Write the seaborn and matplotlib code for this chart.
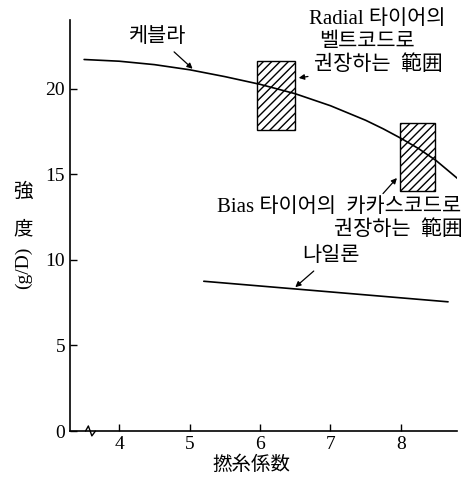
import numpy as np
import pandas as pd
import seaborn as sns
import matplotlib.pyplot as plt

# values
kevlar_x = [3.5, 4.0, 4.5, 5.0, 5.5, 6.0, 6.5, 7.0, 7.5, 7.75, 8.0, 8.25, 8.5, 8.82]
kevlar_y = [21.7, 21.6, 21.4, 21.1, 20.7, 20.25, 19.7, 19.0, 18.15, 17.65, 17.1, 16.5, 15.8, 14.7]
nylon_x = [5.2, 8.67]
nylon_y = [8.75, 7.55]

# recommended twist ranges (x from, x to, y from, y to)
range_x0 = [5.96, 7.99]
range_x1 = [6.49, 8.49]
range_y0 = [17.6, 14.0]
range_y1 = [21.6, 18.0]

x_ticks = [4, 5, 6, 7, 8]
y_ticks = [0, 5, 10, 15, 20]

sns.set_style("ticks")
fonts = ['Liberation Serif', 'Noto Sans CJK KR', 'Noto Sans CJK JP']
plt.rcParams['font.family'] = fonts
plt.rcParams['hatch.linewidth'] = 1.0

fig = plt.figure(figsize=(4.67, 4.79), dpi=100)
ax = fig.add_axes([0.15, 0.10, 0.829, 0.858])

df_k = pd.DataFrame({'x': kevlar_x, 'y': kevlar_y})
df_n = pd.DataFrame({'x': nylon_x, 'y': nylon_y})
sns.lineplot(data=df_k, x='x', y='y', ax=ax, color='black', lw=1.2, estimator=None)
sns.lineplot(data=df_n, x='x', y='y', ax=ax, color='black', lw=1.2, estimator=None)

for a, b, c, d in zip(range_x0, range_x1, range_y0, range_y1):
    ax.bar((a + b) / 2, d - c, width=b - a, bottom=c, fill=False,
           hatch='////', edgecolor='black', linewidth=1.0)

ax.set_xlim(3.3, 8.8)
ax.set_ylim(0, 24)
ax.set_xticks(x_ticks)
ax.set_yticks(y_ticks)
ax.tick_params(direction='in', length=5, width=1, labelsize=14, colors='black')
ax.set_xlabel('')
ax.set_ylabel('')
for s in ['top', 'right']:
    ax.spines[s].set_visible(False)
for s in ['left', 'bottom']:
    ax.spines[s].set_color('black')
    ax.spines[s].set_linewidth(1.2)

# axis break mark
ax.plot([3.52, 3.56, 3.61, 3.66], [0, 0.3, -0.28, 0], color='black', lw=1, clip_on=False)

fs = 15
kw = dict(color='black', family=fonts)
arrow = dict(arrowstyle='-|>', color='black', lw=0.9, mutation_scale=8)

ax.annotate('케블라', xy=(5.07, 21.05), xytext=(4.55, 23.0),
            ha='center', va='center', fontsize=fs, arrowprops=arrow, **kw)
ax.text(7.67, 24.05, 'Radial 타이어의', ha='center', va='center', fontsize=fs, **kw)
ax.text(7.52, 22.7, '벨트코드로', ha='center', va='center', fontsize=fs, **kw)
ax.annotate('권장하는  範囲', xy=(6.51, 20.6), xytext=(7.68, 21.35),
            ha='center', va='center', fontsize=fs, arrowprops=arrow, **kw)
ax.text(8.86, 13.05, 'Bias 타이어의  카카스코드로', ha='right', va='center', fontsize=fs, **kw)
ax.text(8.88, 11.75, '권장하는  範囲', ha='right', va='center', fontsize=fs, **kw)
ax.annotate('', xy=(7.97, 14.9), xytext=(7.72, 13.75), arrowprops=arrow)
ax.annotate('나일론', xy=(6.47, 8.3), xytext=(7.0, 10.2),
            ha='center', va='center', fontsize=fs, arrowprops=arrow, **kw)

# y label: stacked characters plus rotated unit
fig.text(23 / 467, 1 - 192 / 479, '強', ha='center', va='center', fontsize=14, **kw)
fig.text(23 / 467, 1 - 230 / 479, '度', ha='center', va='center', fontsize=14, **kw)
fig.text(23 / 467, 1 - 268 / 479, '(g/D)', ha='center', va='center', fontsize=14, rotation=90, **kw)
fig.text(251 / 467, 1 - 465 / 479, '撚糸係数', ha='center', va='center', fontsize=14, **kw)

fig.savefig('out.png', dpi=100)
